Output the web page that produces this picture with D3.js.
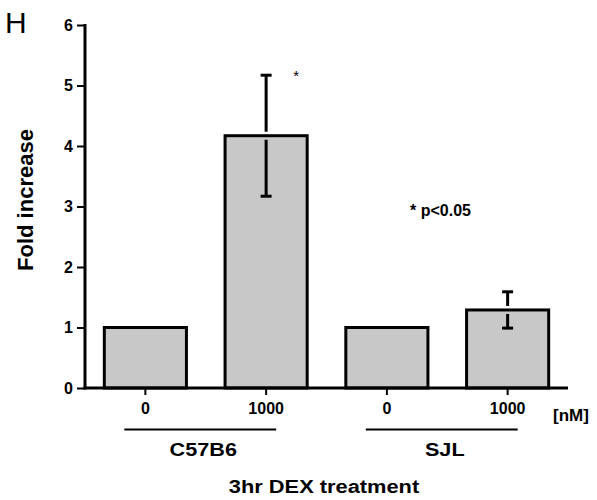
<!DOCTYPE html>
<html>
<head>
<meta charset="utf-8">
<script src="https://cdn.jsdelivr.net/npm/d3@7"></script>
<style>
  body { margin: 0; background: #fff; }
  svg { display: block; font-family: "Liberation Sans", Arial, sans-serif; }
</style>
</head>
<body>
<svg id="chart" width="597" height="500"></svg>
<script>
// ---- data ----
const categories = ["C57B6-0", "C57B6-1000", "SJL-0", "SJL-1000"];
const doseLabels = ["0", "1000", "0", "1000"];
const foldValues = [1.0, 4.17, 1.0, 1.29];
const errValues = [0, 1.0, 0, 0.3];
const groups = ["C57B6", "SJL"];
const groupMembers = [["C57B6-0", "C57B6-1000"], ["SJL-0", "SJL-1000"]];
const yTicks = [0, 1, 2, 3, 4, 5, 6];
const sigMarks = ["", "*", "", ""];

(function () {
const svg = d3.select("#chart");
const mLeft = 85, mRight = 568, mTop = 25, mBottom = 388;

const x = d3.scaleBand().domain(categories).range([mLeft, mRight])
  .paddingInner(0.32).paddingOuter(0.16);
const y = d3.scaleLinear().domain([0, 6]).range([mBottom, mTop]);

// Bars
svg.append("g").selectAll("rect").data(categories).join("rect")
  .attr("x", d => x(d))
  .attr("y", (d, i) => y(foldValues[i]))
  .attr("width", x.bandwidth())
  .attr("height", (d, i) => y(0) - y(foldValues[i]))
  .attr("fill", "#c8c8c8")
  .attr("stroke", "#000")
  .attr("stroke-width", 3);

// Error bars
const eg = svg.append("g").attr("stroke", "#000").attr("stroke-width", 3);
categories.forEach((c, i) => {
  const e = errValues[i];
  if (!e) return;
  const cx = x(c) + x.bandwidth() / 2;
  const v = foldValues[i];
  eg.append("line").attr("x1", cx).attr("x2", cx).attr("y1", y(v + e)).attr("y2", y(v) - 4);
  eg.append("line").attr("x1", cx).attr("x2", cx).attr("y1", y(v) + 4).attr("y2", y(v - e));
  eg.append("line").attr("x1", cx - 5.5).attr("x2", cx + 5.5).attr("y1", y(v + e)).attr("y2", y(v + e));
  eg.append("line").attr("x1", cx - 5.5).attr("x2", cx + 5.5).attr("y1", y(v - e)).attr("y2", y(v - e));
});

// Significance star
categories.forEach((c, i) => {
  if (!sigMarks[i]) return;
  svg.append("text")
    .attr("x", x(c) + x.bandwidth() / 2 + 30)
    .attr("y", y(foldValues[i] + errValues[i]) + 6)
    .attr("text-anchor", "middle")
    .attr("font-size", 15)
    .text(sigMarks[i]);
});

// Y axis
const yAxis = d3.axisLeft(y).tickValues(yTicks).tickSize(8).tickPadding(4).tickFormat(d3.format("d"));
const yg = svg.append("g").attr("transform", `translate(${mLeft},0)`).call(yAxis);
yg.select(".domain").remove();
yg.selectAll(".tick line").attr("stroke-width", 2);
yg.selectAll(".tick text").attr("font-size", 16).attr("font-weight", "bold")
  .attr("font-family", "Liberation Sans, Arial, sans-serif").attr("fill", "#000");
svg.append("line").attr("x1", mLeft).attr("x2", mLeft).attr("y1", y(6) - 1).attr("y2", mBottom + 1.5)
  .attr("stroke", "#000").attr("stroke-width", 3);

// X axis
const xAxis = d3.axisBottom(x).tickSize(7).tickPadding(8).tickFormat((d, i) => doseLabels[i]);
const xg = svg.append("g").attr("transform", `translate(0,${mBottom})`).call(xAxis);
xg.select(".domain").remove();
xg.selectAll(".tick line").attr("stroke-width", 2);
xg.selectAll(".tick text").attr("font-size", 16).attr("font-weight", "bold")
  .attr("font-family", "Liberation Sans, Arial, sans-serif").attr("fill", "#000");
svg.append("line").attr("x1", mLeft - 1.5).attr("x2", mRight).attr("y1", mBottom).attr("y2", mBottom)
  .attr("stroke", "#000").attr("stroke-width", 3);

// Unit label
svg.append("text").attr("x", 571).attr("y", 421).attr("text-anchor", "middle")
  .attr("font-size", 17).attr("font-weight", "bold").text("[nM]");

// Group lines + labels
groups.forEach((g, gi) => {
  const m = groupMembers[gi];
  const x1 = x(m[0]) + 20;
  const x2 = x(m[m.length - 1]) + x.bandwidth() - 31;
  svg.append("line").attr("x1", x1).attr("x2", x2).attr("y1", 429.5).attr("y2", 429.5)
    .attr("stroke", "#000").attr("stroke-width", 2);
  svg.append("text")
    .attr("transform", `translate(${(x1 + x2) / 2 + 3},456) scale(1.17,1)`)
    .attr("text-anchor", "middle").attr("font-size", 18.5).attr("font-weight", "bold")
    .text(g);
});

// X title
svg.append("text")
  .attr("transform", `translate(324,493) scale(1.18,1)`)
  .attr("text-anchor", "middle").attr("font-size", 18.5).attr("font-weight", "bold")
  .text("3hr DEX treatment");

// Y title
svg.append("text")
  .attr("transform", `translate(33,200) rotate(-90)`)
  .attr("text-anchor", "middle").attr("font-size", 22).attr("font-weight", "bold")
  .text("Fold increase");

// Significance note
svg.append("text").attr("x", 410).attr("y", 216)
  .attr("font-size", 16).attr("font-weight", "bold").text("* p<0.05");

// Panel letter
svg.append("text").attr("x", 5).attr("y", 33)
  .attr("font-size", 30).text("H");
})();
</script>
</body>
</html>
